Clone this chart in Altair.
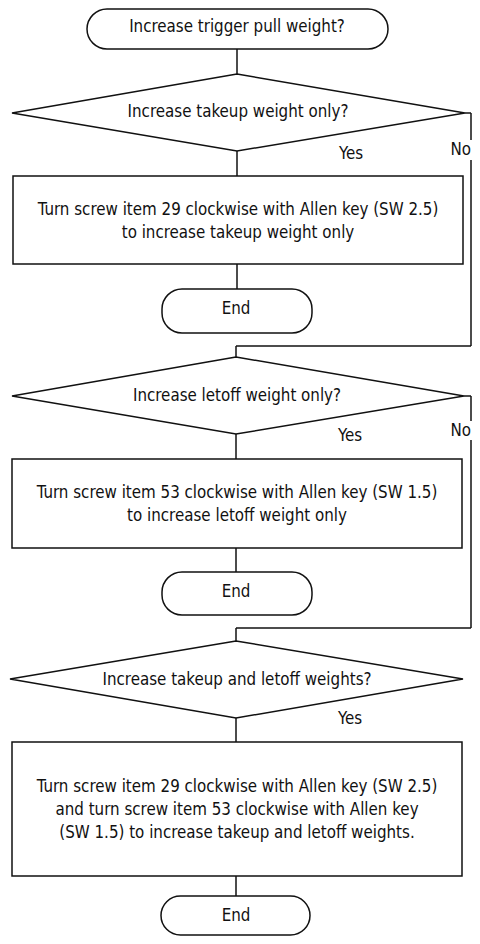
import altair as alt
import pandas as pd

FONT = "'DejaVu Sans Condensed', 'Liberation Sans', sans-serif"
FS = 16.8

# Terminators (rounded "stadium" shapes)
term_x1 = [87, 162, 162, 161]
term_x2 = [388, 312, 312, 310]
term_y1 = [9, 289, 572, 896]
term_y2 = [49, 333, 615, 935]

# Decision diamonds: centre x, top, bottom, left tip, right tip, middle y
dia_cx = [237, 236, 236]
dia_top = [74, 357, 641]
dia_bot = [151, 434, 718]
dia_left = [12, 12, 10]
dia_right = [465, 464, 463]
dia_mid = [113, 396, 679]

# Process boxes
box_x1 = [13, 12, 12]
box_x2 = [463, 462, 462]
box_y1 = [176, 459, 742]
box_y2 = [264, 548, 876]

# Connector segments (x, y, x2, y2)
seg_x1 = [237, 237, 237, 465, 471, 471, 236, 236, 236, 236, 464, 471, 471, 236, 236, 236, 236]
seg_y1 = [49, 151, 264, 113, 113, 160, 346, 346, 434, 548, 396, 396, 440, 628, 628, 718, 876]
seg_x2 = [237, 237, 237, 471, 471, 471, 471, 236, 236, 236, 471, 471, 471, 471, 236, 236, 236]
seg_y2 = [74, 176, 289, 113, 140, 346, 346, 357, 459, 572, 396, 421, 628, 628, 641, 742, 896]

# Texts
labels = [
    "Increase trigger pull weight?",
    "Increase takeup weight only?",
    "Turn screw item 29 clockwise with Allen key (SW 2.5)",
    "to increase takeup weight only",
    "End",
    "Increase letoff weight only?",
    "Turn screw item 53 clockwise with Allen key (SW 1.5)",
    "to increase letoff weight only",
    "End",
    "Increase takeup and letoff weights?",
    "Turn screw item 29 clockwise with Allen key (SW 2.5)",
    "and turn screw item 53 clockwise with Allen key",
    "(SW 1.5) to increase takeup and letoff weights.",
    "End",
]
label_x = [237, 238, 238, 238, 236, 237, 237, 237, 236, 237, 237, 237, 237, 236]
label_y = [27, 112, 209.5, 232.5, 309, 395.5, 493, 516, 592, 679.5, 787, 810, 833, 915.5]

side_labels = ["Yes", "No", "Yes", "No", "Yes"]
side_x = [351, 471, 350, 471, 350]
side_y = [154, 150, 436, 431, 719]
side_align = ["center", "right", "center", "right", "center"]

xs = alt.Scale(domain=[8, 472], zero=False, nice=False)
ys = alt.Scale(domain=[8, 936], zero=False, nice=False, reverse=True)

term_df = pd.DataFrame({"x": term_x1, "x2": term_x2, "y": term_y1, "y2": term_y2})
box_df = pd.DataFrame({"x": box_x1, "x2": box_x2, "y": box_y1, "y2": box_y2})

dia_rows = []
for i in range(len(dia_cx)):
    pts = [(dia_cx[i], dia_top[i]), (dia_right[i], dia_mid[i]), (dia_cx[i], dia_bot[i]),
           (dia_left[i], dia_mid[i]), (dia_cx[i], dia_top[i])]
    for k, (px, py) in enumerate(pts):
        dia_rows.append({"id": i, "ord": k, "x": px, "y": py})
dia_df = pd.DataFrame(dia_rows)

seg_df = pd.DataFrame({"x": seg_x1, "y": seg_y1, "x2": seg_x2, "y2": seg_y2})
lab_df = pd.DataFrame({"x": label_x, "y": label_y, "t": labels})
side_df = pd.DataFrame({"x": side_x, "y": side_y, "t": side_labels, "a": side_align})

STROKE = "#111111"
SW = 1.5

segs = alt.Chart(seg_df).mark_rule(color=STROKE, strokeWidth=SW).encode(
    x=alt.X("x:Q", scale=xs, axis=None), y=alt.Y("y:Q", scale=ys, axis=None),
    x2="x2:Q", y2="y2:Q")

terms = alt.Chart(term_df).mark_rect(fill="white", stroke=STROKE, strokeWidth=SW, cornerRadius=20).encode(
    x=alt.X("x:Q", scale=xs, axis=None), x2="x2:Q",
    y=alt.Y("y:Q", scale=ys, axis=None), y2="y2:Q")

boxes = alt.Chart(box_df).mark_rect(fill="white", stroke=STROKE, strokeWidth=SW).encode(
    x=alt.X("x:Q", scale=xs, axis=None), x2="x2:Q",
    y=alt.Y("y:Q", scale=ys, axis=None), y2="y2:Q")

dias = alt.Chart(dia_df).mark_line(color=STROKE, strokeWidth=SW).encode(
    x=alt.X("x:Q", scale=xs, axis=None), y=alt.Y("y:Q", scale=ys, axis=None),
    detail="id:N", order="ord:Q")

texts = alt.Chart(lab_df).mark_text(font=FONT, fontSize=FS, color="#111111", align="center", baseline="middle").encode(
    x=alt.X("x:Q", scale=xs, axis=None), y=alt.Y("y:Q", scale=ys, axis=None), text="t:N")

side_c = alt.Chart(side_df[side_df.a == "center"]).mark_text(font=FONT, fontSize=FS, color="#111111", align="center", baseline="middle").encode(
    x=alt.X("x:Q", scale=xs, axis=None), y=alt.Y("y:Q", scale=ys, axis=None), text="t:N")
side_r = alt.Chart(side_df[side_df.a == "right"]).mark_text(font=FONT, fontSize=FS, color="#111111", align="right", baseline="middle").encode(
    x=alt.X("x:Q", scale=xs, axis=None), y=alt.Y("y:Q", scale=ys, axis=None), text="t:N")

chart = alt.layer(segs, terms, boxes, dias, texts, side_c, side_r).properties(
    width=464, height=928,
    padding=0,
    autosize=alt.AutoSizeParams(type="none"),
    background="white",
).configure_view(stroke=None)

chart.save("out.html", embed_options={"renderer": "svg", "actions": False})
